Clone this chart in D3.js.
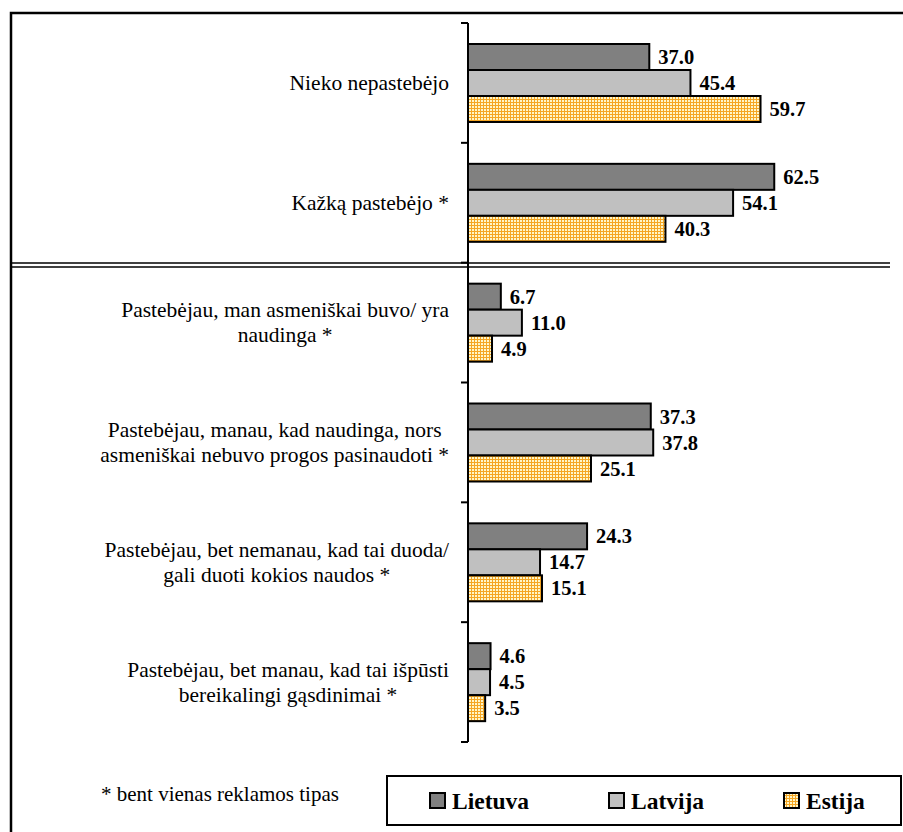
<!DOCTYPE html>
<html><head><meta charset="utf-8">
<script src="https://cdn.jsdelivr.net/npm/d3@7"></script>
<style>body{margin:0;background:#fff}svg{display:block}</style>
</head><body>
<script>
const categories = [
  ["Nieko nepastebėjo"],
  ["Kažką pastebėjo *"],
  ["Pastebėjau, man asmeniškai buvo/ yra", "naudinga *"],
  ["Pastebėjau, manau, kad naudinga, nors", "asmeniškai nebuvo progos pasinaudoti *"],
  ["Pastebėjau, bet nemanau, kad tai duoda/", "gali duoti kokios naudos *"],
  ["Pastebėjau, bet manau, kad tai išpūsti", "bereikalingi gąsdinimai *"]
];
const seriesNames = ["Lietuva", "Latvija", "Estija"];
const lietuva = [37.0, 62.5, 6.7, 37.3, 24.3, 4.6];
const latvija = [45.4, 54.1, 11.0, 37.8, 14.7, 4.5];
const estija  = [59.7, 40.3, 4.9, 25.1, 15.1, 3.5];
const series = [lietuva, latvija, estija];
const footnote = "* bent vienas reklamos tipas";

const FONT = "Liberation Serif";
const W = 903, H = 832;
const svg = d3.select("body").append("svg").attr("width", W).attr("height", H);
const defs = svg.append("defs");
const pat = defs.append("pattern").attr("id","grid").attr("patternUnits","userSpaceOnUse")
  .attr("width",3).attr("height",3);
pat.append("rect").attr("width",3).attr("height",3).attr("fill","#fff6c8");
pat.append("rect").attr("x",0).attr("y",0).attr("width",3).attr("height",1).attr("fill","#f5a623");
pat.append("rect").attr("x",0).attr("y",0).attr("width",1).attr("height",3).attr("fill","#f5a623");
const fills = ["#808080", "#c0c0c0", "url(#grid)"];

function txt(sel) { return sel.append("text").style("font-family", FONT).attr("fill", "#000"); }

// outer frame
svg.append("rect").attr("x",11).attr("y",13).attr("width",W+20).attr("height",H+20)
  .attr("fill","none").attr("stroke","#000").attr("stroke-width",2.5);

const axisX = 468;
const x = d3.scaleLinear().domain([0, 100]).range([axisX, axisX + 490]);
const y = d3.scaleBand().domain(d3.range(categories.length)).range([23, 742]);
const inner = d3.scaleBand().domain(d3.range(3)).range([21, 99]);

const g = svg.append("g");
categories.forEach((cat, i) => {
  series.forEach((vals, s) => {
    const y0 = y(i) + inner(s);
    g.append("rect").attr("x", x(0)).attr("y", y0)
      .attr("width", x(vals[i]) - x(0)).attr("height", inner.bandwidth())
      .attr("fill", fills[s]).attr("stroke", "#000").attr("stroke-width", 2);
    txt(g).attr("x", x(vals[i]) + 9).attr("y", y0 + inner.bandwidth()/2 + 7)
      .style("font-weight","bold").style("font-size", "20.5px").text(vals[i].toFixed(1));
  });
});

// axis
svg.append("line").attr("x1",axisX).attr("x2",axisX).attr("y1",23).attr("y2",742)
  .attr("stroke","#000").attr("stroke-width",2);
const bounds = d3.range(categories.length + 1).map(i => i < categories.length ? y(i) : y(i-1) + y.bandwidth());
svg.selectAll(".tk").data(bounds).join("line").attr("x1",axisX-7).attr("x2",axisX)
  .attr("y1",d=>d).attr("y2",d=>d).attr("stroke","#000").attr("stroke-width",2);

// category labels
const lab = svg.append("g");
categories.forEach((lines, i) => {
  const cy = y(i) + y.bandwidth()/2;
  const tmp = lines.map(l => txt(lab).style("font-size","21.5px").text(l));
  const widths = tmp.map(t => t.node().getComputedTextLength());
  const maxW = d3.max(widths);
  const cx = 449 - maxW/2;
  const lh = 25;
  tmp.forEach((t, k) => {
    t.attr("x", cx).attr("text-anchor","middle")
     .attr("y", cy + (k - (lines.length-1)/2) * lh + 7);
  });
});

// double separator line
[263, 267].forEach(yy => svg.append("line").attr("x1",11).attr("x2",890)
  .attr("y1",yy).attr("y2",yy).attr("stroke","#000").attr("stroke-width",1.5));

// footnote
txt(svg).attr("x",101).attr("y",801).style("font-size","21px").text(footnote);

// legend
svg.append("rect").attr("x",387).attr("y",776).attr("width",514).attr("height",49)
  .attr("fill","#fff").attr("stroke","#000").attr("stroke-width",2);
const legX = [430, 609, 784];
seriesNames.forEach((n, s) => {
  svg.append("rect").attr("x",legX[s]).attr("y",793).attr("width",15).attr("height",15)
    .attr("fill",fills[s]).attr("stroke","#000").attr("stroke-width",2);
  txt(svg).attr("x",legX[s]+22).attr("y",809)
    .style("font-weight","bold").style("font-size","23.5px").text(n);
});
</script>
</body></html>
